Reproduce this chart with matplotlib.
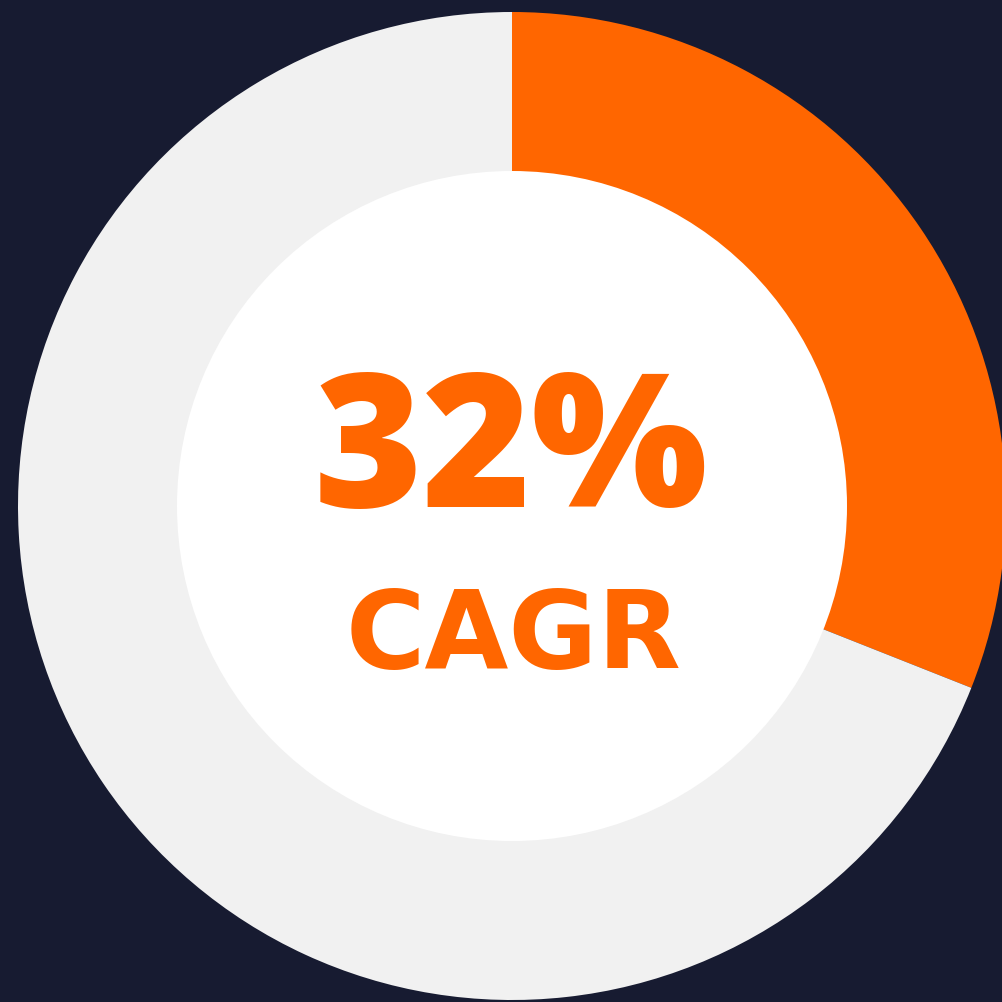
import matplotlib
matplotlib.use("Agg")
import matplotlib.pyplot as plt
from matplotlib.patches import Circle

# Data
categories = ["CAGR", "Rest"]
values = [31, 69]
label_value = "32%"
label_text = "CAGR"

BG = "#171B31"
ORANGE = "#FF6600"
GRAY = "#F1F1F1"

fig = plt.figure(figsize=(10.03, 10.03), dpi=100, facecolor=BG)
ax = fig.add_axes([0, 0, 1, 1])
ax.set_facecolor(BG)

cx, cy = 512, 1003 - 507
R_out, R_in = 494, 334

ax.pie(values, radius=R_out, center=(cx, cy), startangle=90, counterclock=False,
       colors=[ORANGE, GRAY], wedgeprops=dict(width=R_out - R_in, linewidth=0))
ax.add_patch(Circle((cx, cy), R_in + 1, facecolor="white", edgecolor="none", zorder=3))

ax.text(cx - 1, 1003 - 507, label_value, ha="center", va="baseline", color=ORANGE,
        fontsize=134, fontweight="heavy", family=["Open Sans", "DejaVu Sans"], zorder=4)
ax.text(cx + 2, 1003 - 668, label_text, ha="center", va="baseline", color=ORANGE,
        fontsize=78, fontweight="bold", family=["DejaVu Sans"], zorder=4)

ax.set_xlim(0, 1003)
ax.set_ylim(0, 1003)
ax.set_aspect("equal")
ax.axis("off")

fig.savefig("out.png", dpi=100, facecolor=BG)
